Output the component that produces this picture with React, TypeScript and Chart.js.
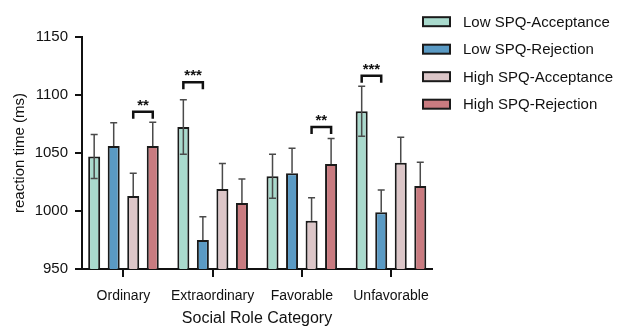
import React, { useEffect, useRef } from "react";
import { Chart, registerables } from "chart.js";

Chart.register(...registerables);

const categories = ["Ordinary", "Extraordinary", "Favorable", "Unfavorable"];
const seriesLabels = [
  "Low SPQ-Acceptance",
  "Low SPQ-Rejection",
  "High SPQ-Acceptance",
  "High SPQ-Rejection",
];
const lowAcceptance = [1047, 1072.5, 1030, 1086];
const lowRejection = [1056, 975, 1032.5, 999];
const highAcceptance = [1013, 1019, 991.5, 1041.5];
const highRejection = [1056, 1007, 1040.5, 1021.5];
const lowAcceptanceSem = [19, 23.5, 19, 21.5];
const lowRejectionSem = [20, 20, 21.5, 19];
const highAcceptanceSem = [19.5, 22, 20, 22];
const highRejectionSem = [20.5, 20.5, 22, 20.5];

const yTicks = [950, 1000, 1050, 1100, 1150];

// significance brackets
const sigCategory = [0, 1, 2, 3];
const sigFrom = [2, 0, 2, 0];
const sigTo = [3, 1, 3, 1];
const sigLevel = [1085.5, 1111, 1072.5, 1116.5];
const sigLabel = ["**", "***", "**", "***"];

const colors = ["#a9dacd", "#5a9ac4", "#dcc6c8", "#c97b80"];
const showLower = [true, false, false, false];
const FONT = "'Liberation Sans', Arial, Helvetica, sans-serif";

export default function App() {
  const ref = useRef<HTMLCanvasElement | null>(null);

  useEffect(() => {
    if (!ref.current) return;
    const values = [lowAcceptance, lowRejection, highAcceptance, highRejection];
    const sems = [lowAcceptanceSem, lowRejectionSem, highAcceptanceSem, highRejectionSem];

    const errorPlugin = {
      id: "errbars",
      afterDatasetsDraw(chart: any) {
        const ctx = chart.ctx;
        const ys = chart.scales.y;
        ctx.save();
        ctx.strokeStyle = "#4a4a4a";
        ctx.lineWidth = 1.5;
        chart.data.datasets.forEach((ds: any, di: number) => {
          const meta = chart.getDatasetMeta(di);
          meta.data.forEach((bar: any, i: number) => {
            const m = values[di][i];
            const s = sems[di][i];
            const x = bar.x;
            const yTop = ys.getPixelForValue(m + s);
            const yMid = ys.getPixelForValue(m);
            ctx.beginPath();
            ctx.moveTo(x, yMid);
            ctx.lineTo(x, yTop);
            ctx.moveTo(x - 3.5, yTop);
            ctx.lineTo(x + 3.5, yTop);
            if (showLower[di]) {
              const yLow = ys.getPixelForValue(m - s);
              ctx.moveTo(x, yMid);
              ctx.lineTo(x, yLow);
              ctx.moveTo(x - 3.5, yLow);
              ctx.lineTo(x + 3.5, yLow);
            }
            ctx.stroke();
          });
        });
        // significance brackets
        ctx.strokeStyle = "#111";
        ctx.lineWidth = 2.5;
        ctx.fillStyle = "#111";
        ctx.font = `bold 15px ${FONT}`;
        ctx.textAlign = "center";
        ctx.textBaseline = "alphabetic";
        sigCategory.forEach((c, k) => {
          const a = chart.getDatasetMeta(sigFrom[k]).data[c];
          const b = chart.getDatasetMeta(sigTo[k]).data[c];
          const y = ys.getPixelForValue(sigLevel[k]);
          ctx.beginPath();
          ctx.moveTo(a.x, y + 7);
          ctx.lineTo(a.x, y);
          ctx.lineTo(b.x, y);
          ctx.lineTo(b.x, y + 7);
          ctx.stroke();
          ctx.fillText(sigLabel[k], (a.x + b.x) / 2, y - 2);
        });
        ctx.restore();
      },
    };

    const legendPlugin = {
      id: "customLegend",
      afterDraw(chart: any) {
        const ctx = chart.ctx;
        ctx.save();
        chart.data.datasets.forEach((ds: any, i: number) => {
          const cy = 21.7 + i * 27.5;
          ctx.fillStyle = ds.backgroundColor;
          ctx.fillRect(423, cy - 4.5, 27, 9);
          ctx.strokeStyle = "#1a1a1a";
          ctx.lineWidth = 2;
          ctx.strokeRect(423, cy - 4.5, 27, 9);
          ctx.fillStyle = "#111";
          ctx.font = `15px ${FONT}`;
          ctx.textAlign = "left";
          ctx.textBaseline = "middle";
          ctx.fillText(ds.label, 463, cy + 1);
        });
        ctx.restore();
      },
    };

    const chart = new Chart(ref.current, {
      type: "bar",
      data: {
        datasets: values.map((vals, di) => ({
          label: seriesLabels[di],
          data: vals.map((v, i) => ({ x: i, y: v })),
          backgroundColor: colors[di],
          borderColor: "#1a1a1a",
          borderWidth: 2,
          borderSkipped: "bottom" as const,
          categoryPercentage: 0.876,
          barPercentage: 0.615,
        })),
      },
      options: {
        responsive: false,
        animation: false,
        maintainAspectRatio: false,
        layout: { padding: { top: 37, right: 189, left: 0, bottom: 0 } },
        plugins: { legend: { display: false }, tooltip: { enabled: false } },
        scales: {
          x: {
            type: "linear",
            offset: false,
            min: -0.465,
            max: 3.46,
            afterBuildTicks: (scale: any) => {
              scale.ticks = categories.map((_, i) => ({ value: i }));
            },
            afterFit: (scale: any) => {
              scale.height = 58;
            },
            ticks: {
              callback: (v: any) => categories[v as number] ?? "",
              font: { family: FONT, size: 14 },
              color: "#111",
              padding: 11,
              maxRotation: 0,
              autoSkip: false,
            },
            grid: {
              offset: false,
              drawOnChartArea: false,
              tickLength: 8,
              color: "#111",
              lineWidth: 2,
            },
            border: { display: true, color: "#111", width: 2 },
            title: {
              display: true,
              text: "Social Role Category",
              font: { family: FONT, size: 16, lineHeight: 1.0 },
              color: "#111",
              padding: { top: 0, bottom: 0 },
            },
          },
          y: {
            min: 950,
            max: 1150,
            afterBuildTicks: (scale: any) => {
              scale.ticks = yTicks.map((v) => ({ value: v }));
            },
            afterFit: (scale: any) => {
              scale.width = 82;
            },
            ticks: {
              callback: (v: any) => String(v),
              font: { family: FONT, size: 15 },
              color: "#111",
              padding: 7,
            },
            grid: {
              drawOnChartArea: false,
              tickLength: 7,
              color: "#111",
              lineWidth: 2,
            },
            border: { display: true, color: "#111", width: 2 },
            title: {
              display: true,
              text: "reaction time (ms)",
              font: { family: FONT, size: 15, lineHeight: 1.2 },
              color: "#111",
              padding: { top: 11, bottom: 0 },
            },
          },
        },
      },
      plugins: [errorPlugin, legendPlugin],
    } as any);
    return () => chart.destroy();
  }, []);

  return (
    <div style={{ position: "absolute", left: 0, top: 0, width: 621, height: 327, background: "#fff" }}>
      <canvas ref={ref} width={621} height={327} style={{ width: 621, height: 327 }} />
    </div>
  );
}
